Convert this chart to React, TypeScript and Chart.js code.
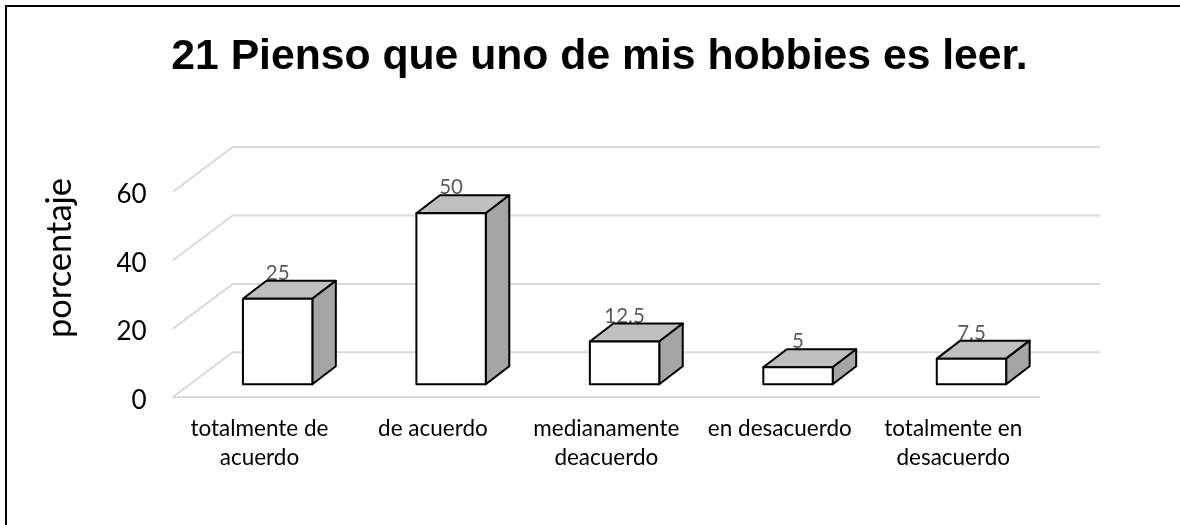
import React, { useEffect, useRef } from "react";
import { Chart, registerables } from "chart.js";

Chart.register(...registerables);

const chartTitle = "21 Pienso que uno de mis hobbies es leer.";
const yAxisTitle = "porcentaje";
const categories = [
  ["totalmente de", "acuerdo"],
  ["de acuerdo"],
  ["medianamente", "deacuerdo"],
  ["en desacuerdo"],
  ["totalmente en", "desacuerdo"],
];
const values = [25, 50, 12.5, 5, 7.5];
const yTicks = { min: 0, max: 60, step: 20 };

const GRID = "#D9D9D9";
const wall = { dx: 60, dy: -45 };
const barShift = { dx: 18.2, dy: -13 };
const depth = { dx: 23.5, dy: -18 };

const plugin3d = {
  id: "plugin3d",
  afterLayout(chart: any) {
    // title is centred on the whole picture, not on the plot
    chart.titleBlock.left = 0;
    chart.titleBlock.right = 1199;
  },
  beforeDraw(chart: any) {
    const { ctx, width, height, chartArea, scales } = chart;
    ctx.save();
    ctx.fillStyle = "#fff";
    ctx.fillRect(0, 0, width, height);
    ctx.strokeStyle = "#000";
    ctx.lineWidth = 2;
    ctx.beginPath();
    ctx.moveTo(6, height);
    ctx.lineTo(6, 6);
    ctx.lineTo(width, 6);
    ctx.stroke();
    ctx.strokeStyle = GRID;
    ctx.lineWidth = 2;
    const { left, right } = chartArea;
    scales.y.ticks.forEach((t: any) => {
      const y = scales.y.getPixelForValue(t.value);
      ctx.beginPath();
      ctx.moveTo(left, y);
      ctx.lineTo(left + wall.dx, y + wall.dy);
      ctx.lineTo(right + wall.dx, y + wall.dy);
      ctx.stroke();
    });
    const y0 = scales.y.getPixelForValue(0);
    ctx.beginPath();
    ctx.moveTo(left, y0);
    ctx.lineTo(right, y0);
    ctx.stroke();
    ctx.translate(60, 258);
    ctx.rotate(-Math.PI / 2);
    ctx.fillStyle = "#000";
    ctx.font = "34.5px Lato";
    ctx.textAlign = "center";
    ctx.textBaseline = "middle";
    ctx.fillText(yAxisTitle, 0, 0);
    ctx.restore();
  },
  beforeDatasetDraw(chart: any, args: any) {
    const { ctx } = chart;
    ctx.save();
    ctx.translate(barShift.dx, barShift.dy);
    args.meta.data.forEach((bar: any, i: number) => {
      const { x, y, base, width } = bar.getProps(["x", "y", "base", "width"], true);
      const l = x - width / 2;
      const r = x + width / 2;
      ctx.fillStyle = "#595959";
      ctx.font = "20.5px Lato";
      ctx.textAlign = "center";
      ctx.textBaseline = "alphabetic";
      ctx.fillText(String(values[i]), x, y + depth.dy - 1);
      ctx.strokeStyle = "#000";
      ctx.lineWidth = 2;
      ctx.lineJoin = "round";
      ctx.fillStyle = "#BFBFBF";
      ctx.beginPath();
      ctx.moveTo(l, y);
      ctx.lineTo(l + depth.dx, y + depth.dy);
      ctx.lineTo(r + depth.dx, y + depth.dy);
      ctx.lineTo(r, y);
      ctx.closePath();
      ctx.fill();
      ctx.stroke();
      ctx.fillStyle = "#A5A5A5";
      ctx.beginPath();
      ctx.moveTo(r, y);
      ctx.lineTo(r + depth.dx, y + depth.dy);
      ctx.lineTo(r + depth.dx, base + depth.dy);
      ctx.lineTo(r, base);
      ctx.closePath();
      ctx.fill();
      ctx.stroke();
    });
  },
  afterDatasetDraw(chart: any, args: any) {
    const { ctx } = chart;
    args.meta.data.forEach((bar: any) => {
      const { x, y, base, width } = bar.getProps(["x", "y", "base", "width"], true);
      ctx.strokeStyle = "#000";
      ctx.lineWidth = 2;
      ctx.lineJoin = "round";
      ctx.strokeRect(x - width / 2, y, width, base - y);
    });
    ctx.restore();
  },
};

export default function App() {
  const ref = useRef<HTMLCanvasElement>(null);
  useEffect(() => {
    document.body.style.margin = "0";
    const chart = new Chart(ref.current!, {
      type: "bar",
      data: {
        labels: categories as any,
        datasets: [
          {
            data: values,
            backgroundColor: "#FFFFFF",
            borderWidth: 0,
            barPercentage: 0.4,
            categoryPercentage: 1,
          },
        ],
      },
      plugins: [plugin3d],
      options: {
        responsive: false,
        animation: false,
        layout: { padding: { left: 0, right: 140, top: 0, bottom: 0 } },
        plugins: {
          legend: { display: false },
          tooltip: { enabled: false },
          title: {
            display: true,
            text: chartTitle,
            color: "#000",
            font: { family: "Liberation Sans", size: 42.7, weight: "bold" },
            padding: { top: 32, bottom: 108.8 },
          },
        },
        scales: {
          x: {
            grid: { display: false, drawTicks: false },
            border: { display: false },
            ticks: {
              color: "#000",
              font: { family: "Lato", size: 22.5, lineHeight: "29px" },
              maxRotation: 0,
              autoSkip: false,
              padding: 17,
            },
            afterFit(s: any) {
              s.height = 127.7;
              s.paddingLeft = 0;
              s.paddingRight = 0;
            },
          },
          y: {
            min: yTicks.min,
            max: yTicks.max,
            grid: { display: false, drawTicks: false },
            border: { display: false },
            ticks: {
              stepSize: yTicks.step,
              color: "#000",
              // the blank first line nudges each label 3px below its grid level
              callback: (v: any) => ["", String(v)],
              font: { family: "Lato", size: 26, lineHeight: "6px" },
              padding: 26,
            },
            afterFit(s: any) {
              s.width = 172.7;
              s.paddingTop = 0;
              s.paddingBottom = 0;
            },
          },
        },
      } as any,
    });
    return () => chart.destroy();
  }, []);
  return <canvas ref={ref} width={1180} height={525} style={{ display: "block" }} />;
}
